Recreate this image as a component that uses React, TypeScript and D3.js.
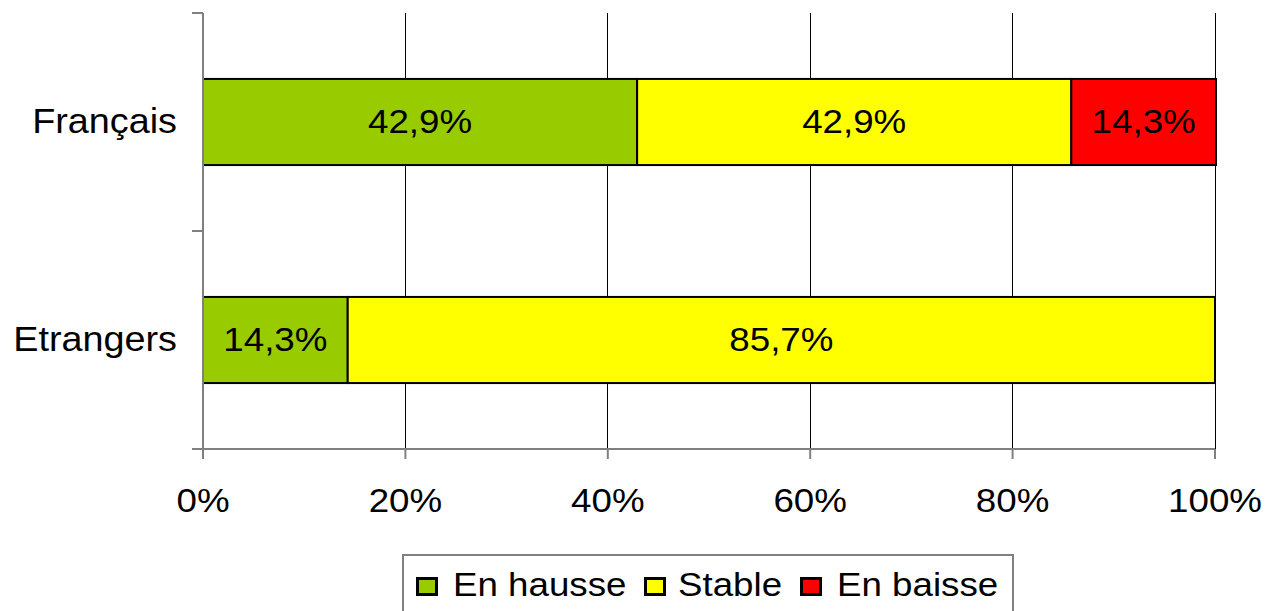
import { useEffect, useRef } from 'react'
import * as d3 from 'd3'

const categories = ['Français', 'Etrangers']
const seriesNames = ['En hausse', 'Stable', 'En baisse']
const seriesColors = ['#99cc00', '#ffff00', '#ff0000']
const hausse = [42.9, 14.3]
const stable = [42.9, 85.7]
const baisse = [14.3, 0]
const xTicks = [0, 20, 40, 60, 80, 100]

const App = () => {
    const ref = useRef<SVGSVGElement>(null)

    useEffect(() => {
        const width = 1267
        const height = 611
        const left = 203
        const right = 1215
        const top = 13
        const bottom = 449
        const font = 'Liberation Sans, Arial, sans-serif'
        const fontSize = 34
        const sx = 1.08 // the reference text is a bit wide

        const svg = d3.select(ref.current)
        svg.selectAll('*').remove()
        svg.attr('width', width).attr('height', height)

        const x = d3.scaleLinear().domain([0, 100]).range([left, right])
        const y = d3.scaleBand().domain(categories).range([top, bottom]).padding(0)
        const barH = y.bandwidth() * 0.395

        const place = (px: number, py: number) => `translate(${px},${py}) scale(${sx},1)`

        // gridlines
        svg.append('g')
            .selectAll('line')
            .data(xTicks.slice(1))
            .join('line')
            .attr('x1', (d) => x(d))
            .attr('x2', (d) => x(d))
            .attr('y1', top)
            .attr('y2', bottom)
            .attr('stroke', '#000')
            .attr('stroke-width', 1)
            .attr('shape-rendering', 'crispEdges')

        // stacked segments
        const segs: { cat: string; x0: number; x1: number; v: number; k: number }[] = []
        categories.forEach((c, i) => {
            let acc = 0
            ;[hausse[i], stable[i], baisse[i]].forEach((v, k) => {
                if (v > 0) segs.push({ cat: c, x0: acc, x1: acc + v, v, k })
                acc += v
            })
        })

        const bars = svg.append('g')
        bars.selectAll('rect')
            .data(segs)
            .join('rect')
            .attr('x', (d) => x(d.x0))
            .attr('width', (d) => x(d.x1) - x(d.x0))
            .attr('y', (d) => (y(d.cat) as number) + (y.bandwidth() - barH) / 2)
            .attr('height', barH)
            .attr('fill', (d) => seriesColors[d.k])
            .attr('stroke', '#000')
            .attr('stroke-width', 2)

        bars.selectAll('text')
            .data(segs)
            .join('text')
            .attr('transform', (d) =>
                place((x(d.x0) + x(d.x1)) / 2, (y(d.cat) as number) + y.bandwidth() / 2 + 11),
            )
            .attr('text-anchor', 'middle')
            .attr('font-family', font)
            .attr('font-size', fontSize)
            .text((d) => d.v.toFixed(1).replace('.', ',') + '%')

        // axes
        const axisColor = '#808080'
        svg.append('line')
            .attr('x1', left).attr('x2', left)
            .attr('y1', top).attr('y2', bottom + 10)
            .attr('stroke', axisColor).attr('stroke-width', 2)
        svg.append('line')
            .attr('x1', left - 11).attr('x2', right)
            .attr('y1', bottom).attr('y2', bottom)
            .attr('stroke', axisColor).attr('stroke-width', 2)

        const yEdges = [top, ...categories.map((c) => (y(c) as number) + y.bandwidth())]
        svg.append('g')
            .selectAll('line')
            .data(yEdges)
            .join('line')
            .attr('x1', left - 11)
            .attr('x2', left)
            .attr('y1', (d) => d)
            .attr('y2', (d) => d)
            .attr('stroke', axisColor)
            .attr('stroke-width', 2)

        svg.append('g')
            .selectAll('line')
            .data(xTicks)
            .join('line')
            .attr('x1', (d) => x(d))
            .attr('x2', (d) => x(d))
            .attr('y1', bottom)
            .attr('y2', bottom + 10)
            .attr('stroke', axisColor)
            .attr('stroke-width', 2)

        svg.append('g')
            .selectAll('text')
            .data(xTicks)
            .join('text')
            .attr('transform', (d) => place(x(d), 512))
            .attr('text-anchor', 'middle')
            .attr('font-family', font)
            .attr('font-size', fontSize)
            .text((d) => d + '%')

        svg.append('g')
            .selectAll('text')
            .data(categories)
            .join('text')
            .attr('transform', (d) => place(177, (y(d) as number) + y.bandwidth() / 2 + 11))
            .attr('text-anchor', 'end')
            .attr('font-family', font)
            .attr('font-size', 35)
            .text((d) => d)

        // legend
        const legend = svg.append('g')
        legend.append('rect')
            .attr('x', 403)
            .attr('y', 555)
            .attr('width', 610)
            .attr('height', 80)
            .attr('fill', '#fff')
            .attr('stroke', axisColor)
            .attr('stroke-width', 2)
        const boxX = [416, 644, 800]
        const textX = [453, 678, 837]
        seriesNames.forEach((name, i) => {
            legend.append('rect')
                .attr('x', boxX[i] + 1.5)
                .attr('y', 578.5)
                .attr('width', 19)
                .attr('height', 16)
                .attr('fill', seriesColors[i])
                .attr('stroke', '#000')
                .attr('stroke-width', 3)
            legend.append('text')
                .attr('transform', place(textX[i], 596))
                .attr('font-family', font)
                .attr('font-size', fontSize)
                .text(name)
        })
    }, [])

    return <svg ref={ref} style={{ position: 'absolute', left: 0, top: 0 }} />
}

export default App
